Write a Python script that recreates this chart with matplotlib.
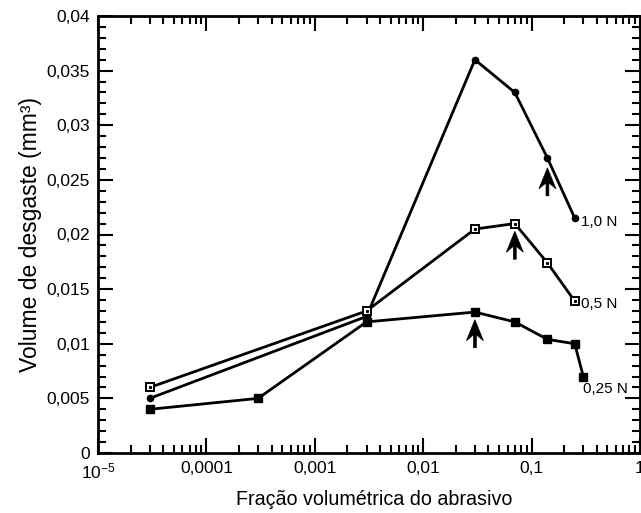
import numpy as np
import matplotlib
matplotlib.use('Agg')
import matplotlib.pyplot as plt
import matplotlib.ticker as mticker
import matplotlib.transforms as mtransforms
from matplotlib.patches import Polygon

# ── Data ───────────────────────────────────────────────────────────────────
frac_1N = [3e-5, 0.003, 0.03, 0.07, 0.14, 0.25]
vol_1N = [0.005, 0.0125, 0.036, 0.033, 0.027, 0.0215]

frac_05N = [3e-5, 0.003, 0.03, 0.07, 0.14, 0.25]
vol_05N = [0.006, 0.013, 0.0205, 0.021, 0.0174, 0.0139]

frac_025N = [3e-5, 3e-4, 0.003, 0.03, 0.07, 0.14, 0.25, 0.3]
vol_025N = [0.004, 0.005, 0.012, 0.0129, 0.012, 0.0104, 0.0100, 0.0070]

series_labels = ['1,0 N', '0,5 N', '0,25 N']

# arrows marking the transition (tip position)
arrow_x = [0.03, 0.07, 0.14]
arrow_tip = [0.0122, 0.0203, 0.0261]

# ── Style ───────────────────────────────────────────────────────────────────
plt.rcParams.update({
    'font.family': ['Liberation Sans', 'DejaVu Sans'],
    'font.size': 10,
    'mathtext.fontset': 'custom',
    'mathtext.rm': 'Liberation Sans',
    'mathtext.it': 'Liberation Sans',
})

fig = plt.figure(figsize=(6.41, 5.13), dpi=100)
ax = fig.add_axes([98 / 641, 60 / 513, 542 / 641, 437 / 513])

LW = 2.0
ax.plot(frac_1N, vol_1N, '-', color='black', lw=LW,
        marker='o', ms=4.5, mfc='black', mec='black')
ax.plot(frac_05N, vol_05N, '-', color='black', lw=LW,
        marker='s', ms=5.5, mfc='white', mec='black', mew=1.4)
ax.plot(frac_05N, vol_05N, ls='none', marker='s', ms=1.2, color='black')
ax.plot(frac_025N, vol_025N, '-', color='black', lw=LW,
        marker='s', ms=5.5, mfc='black', mec='black')

# end labels
ends = [(frac_1N[-1], vol_1N[-1], (6, -4)),
        (frac_05N[-1], vol_05N[-1], (6, -3)),
        (frac_025N[-1], vol_025N[-1], (0, -12))]
for lab, (x, y, off) in zip(series_labels, ends):
    ax.annotate(lab, (x, y), xytext=off, textcoords='offset pixels',
                ha='left', va='center', fontsize=11)

# notched arrows, shape in pixels
shape_px = np.array([[0, 0], [8.5, -21], [1.4, -15], [1.4, -28], [-1.4, -28],
                     [-1.4, -15], [-8.5, -21]]) / 100.0
for x, y in zip(arrow_x, arrow_tip):
    tr = fig.dpi_scale_trans + mtransforms.ScaledTranslation(x, y, ax.transData)
    ax.add_patch(Polygon(shape_px, closed=True, facecolor='black',
                         edgecolor='black', lw=0.5, transform=tr))

# ── Axes ────────────────────────────────────────────────────────────────────
ax.set_xscale('log')
ax.set_xlim(1e-5, 1)
ax.set_ylim(0, 0.04)

ax.xaxis.set_major_locator(mticker.LogLocator(base=10, numticks=10))
ax.xaxis.set_minor_locator(mticker.LogLocator(base=10, subs=np.arange(2, 10),
                                              numticks=20))
ax.xaxis.set_minor_formatter(mticker.NullFormatter())


def xfmt(v, pos):
    if abs(v - 1e-5) < 1e-9:
        return r'$\mathregular{10^{-5}}$'
    if abs(v - 1e-4) < 1e-9:
        return '0,0001'
    return f'{v:g}'.replace('.', ',')


ax.xaxis.set_major_formatter(mticker.FuncFormatter(xfmt))

ax.yaxis.set_major_locator(mticker.MultipleLocator(0.005))
ax.yaxis.set_minor_locator(mticker.MultipleLocator(0.001))
ax.yaxis.set_major_formatter(
    mticker.FuncFormatter(lambda v, p: f'{v:g}'.replace('.', ',')))

ax.tick_params(which='both', direction='in', top=True, right=True,
               labelsize=12.5, width=1.5, pad=6)
ax.tick_params(which='major', length=11)
ax.tick_params(which='minor', length=6)
for sp in ax.spines.values():
    sp.set_linewidth(2.0)

ax.set_xlabel('Fração volumétrica do abrasivo', fontsize=14.2, labelpad=5)
ax.xaxis.set_label_coords(0.51, -0.085)
ax.set_ylabel('Volume de desgaste (mm³)', fontsize=16.5, labelpad=3)

fig.savefig('out.png', dpi=100)
